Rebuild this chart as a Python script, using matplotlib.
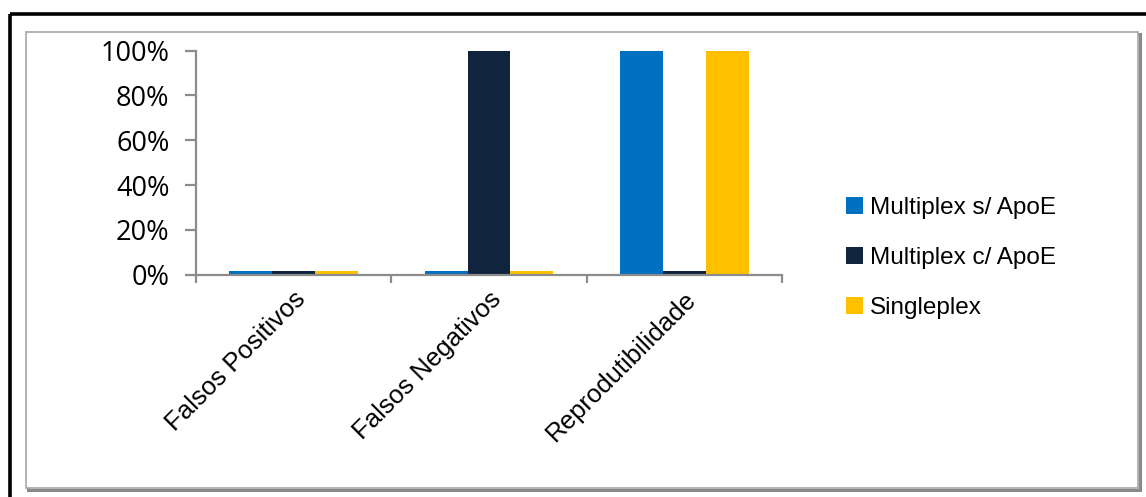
import matplotlib
matplotlib.use("Agg")
import matplotlib.pyplot as plt
from matplotlib.patches import Rectangle
from matplotlib.ticker import PercentFormatter, FixedLocator
import numpy as np

categories = ["Falsos Positivos", "Falsos Negativos", "Reprodutibilidade"]
series_names = ["Multiplex s/ ApoE", "Multiplex c/ ApoE", "Singleplex"]
multiplex_s_apoe = [0.015, 0.015, 1.0]
multiplex_c_apoe = [0.015, 1.0, 0.015]
singleplex = [0.015, 0.015, 1.0]
y_ticks = [0, 0.2, 0.4, 0.6, 0.8, 1.0]

colors = ["#0070C0", "#10243E", "#FFC000"]
axis_gray = "#8C8C8C"

W, H = 1146, 497
fig = plt.figure(figsize=(W / 100, H / 100), dpi=100)

# outer black frame and inner chart-area box with a soft shadow
fig.patches.append(Rectangle((9.5 / W, 1 - 14 / H), 1.2, -1.2, transform=fig.transFigure,
                             fill=False, edgecolor="black", linewidth=2.6, zorder=0))
fig.patches.append(Rectangle((28 / W, 1 - 490 / H), 1112 / W, 456 / H, transform=fig.transFigure,
                             fill=False, edgecolor="#8A8A8A", linewidth=2.2, zorder=0))
fig.patches.append(Rectangle((26 / W, 1 - 488 / H), 1112 / W, 456 / H, transform=fig.transFigure,
                             facecolor="white", edgecolor="#A6A6A6", linewidth=1.2, zorder=0))

ax = fig.add_axes([196 / W, 1 - 274.7 / H, (782 - 196) / W, (274.7 - 50.6) / H])
ax.set_facecolor("none")
ax.set_zorder(2)

x = np.arange(len(categories))
bw = 0.22
for i, (vals, name) in enumerate(zip([multiplex_s_apoe, multiplex_c_apoe, singleplex], series_names)):
    ax.bar(x + (i - 1) * bw, vals, width=bw, color=colors[i], label=name, zorder=2)

ax.set_xlim(-0.5, len(categories) - 0.5)
ax.set_ylim(0, 1.0)

for s in ["top", "right"]:
    ax.spines[s].set_visible(False)
for s in ["left", "bottom"]:
    ax.spines[s].set_color(axis_gray)
    ax.spines[s].set_linewidth(1.6)
ax.spines["bottom"].set_zorder(3)

ax.yaxis.set_major_locator(FixedLocator(y_ticks))
ax.yaxis.set_major_formatter(PercentFormatter(1.0, decimals=0))
ax.tick_params(axis="y", direction="out", length=8, width=1.6, color=axis_gray, pad=11,
               labelsize=19.5, labelcolor="black")
for lab in ax.get_yticklabels():
    lab.set_fontfamily("Open Sans")

# category boundaries carry the tick marks, labels sit at the centres
ax.set_xticks(np.arange(-0.5, len(categories), 1.0))
ax.set_xticklabels([])
ax.tick_params(axis="x", which="major", direction="out", length=6, width=1.6, color=axis_gray)
ax.set_xticks(x, minor=True)
ax.set_xticklabels(categories, minor=True, rotation=45, ha="right", va="top",
                   rotation_mode="anchor", fontsize=18.5, fontfamily="Liberation Sans")
ax.tick_params(axis="x", which="minor", length=0, pad=9)

leg = ax.legend(loc="center left", bbox_to_anchor=(846 / W, 1 - 258 / H),
                bbox_transform=fig.transFigure, frameon=False,
                prop={"family": "Liberation Sans", "size": 17.5},
                handlelength=0.7, handleheight=0.7, handletextpad=0.3,
                labelspacing=1.17, borderaxespad=0, borderpad=0)

fig.savefig("out.png", dpi=100)
